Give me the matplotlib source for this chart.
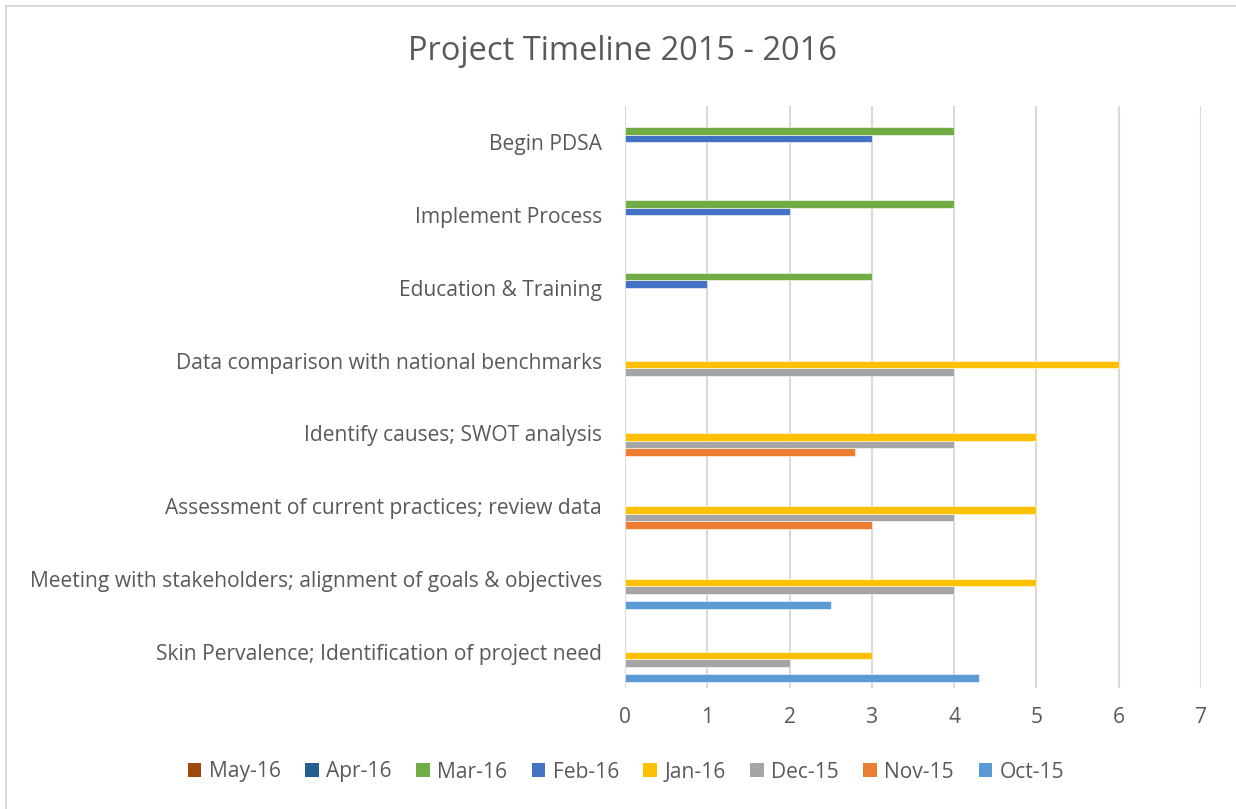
import numpy as np
import matplotlib
matplotlib.use("Agg")
import matplotlib.pyplot as plt
from matplotlib.patches import Rectangle, Patch

plt.rcParams['font.family'] = ['Open Sans', 'DejaVu Sans']

# tasks, bottom to top as they appear on the chart
tasks = [
    "Skin Pervalence; Identification of project need",
    "Meeting with stakeholders; alignment of goals & objectives",
    "Assessment of current practices; review data",
    "Identify causes; SWOT analysis",
    "Data comparison with national benchmarks",
    "Education & Training",
    "Implement Process",
    "Begin PDSA",
]

# series, drawn bottom (Oct-15) to top (May-16) inside each group
months = ["Oct-15", "Nov-15", "Dec-15", "Jan-16", "Feb-16", "Mar-16", "Apr-16", "May-16"]
colors = ["#5B9BD5", "#ED7D31", "#A5A5A5", "#FFC000", "#4472C4", "#70AD47", "#255E91", "#9E480E"]

# None = no bar
oct15 = [4.3, 2.5, None, None, None, None, None, None]
nov15 = [None, None, 3, 2.8, None, None, None, None]
dec15 = [2, 4, 4, 4, 4, None, None, None]
jan16 = [3, 5, 5, 5, 6, None, None, None]
feb16 = [None, None, None, None, None, 1, 2, 3]
mar16 = [None, None, None, None, None, 3, 4, 4]
apr16 = [None] * 8
may16 = [None] * 8
series = [oct15, nov15, dec15, jan16, feb16, mar16, apr16, may16]

fig = plt.figure(figsize=(12.36, 8.09), dpi=100)
ax = fig.add_axes([625 / 1236, 1 - 688 / 809, 576 / 1236, 582 / 809])

# outer chart border
fig.patches.append(Rectangle((6 / 1236, -0.02), 1.05, 1 - 6 / 809 + 0.02, transform=fig.transFigure,
                             fill=False, edgecolor="#D9D9D9", linewidth=1.5))

h = 0.103
y = np.arange(len(tasks))
for i, (vals, col) in enumerate(zip(series, colors)):
    off = (i - 3.5) * h
    yy = [y[k] + off for k, v in enumerate(vals) if v is not None]
    ww = [v for v in vals if v is not None]
    if ww:
        ax.barh(yy, ww, height=h, color=col, edgecolor="white", linewidth=0.4, zorder=3)

ax.set_xlim(0, 7)
ax.set_ylim(-0.5, len(tasks) - 0.5)
ax.set_xticks(range(8))
ax.set_yticks(y)
ax.set_yticklabels(tasks)
ax.grid(axis="x", color="#D9D9D9", linewidth=1.5, zorder=0)
for s in ax.spines.values():
    s.set_visible(False)
ax.tick_params(axis="both", length=0, labelsize=15.1, colors="#595959")
ax.tick_params(axis="x", pad=14)
ax.tick_params(axis="y", pad=16.5)

fig.text(622 / 1236, 1 - 52 / 809, "Project Timeline 2015 - 2016", ha="center", va="center",
         fontsize=23.5, color="#595959")

# legend lists the series in reverse order
handles = [Patch(facecolor=c, label=m) for m, c in zip(months, colors)][::-1]
fig.legend(handles=handles, loc="center", bbox_to_anchor=(626 / 1236, 1 - 772 / 809),
           ncol=8, frameon=False, fontsize=15.1, labelcolor="#595959",
           handlelength=0.65, handleheight=0.65, handletextpad=0.35, columnspacing=1.17)

fig.savefig("out.png", dpi=100)
